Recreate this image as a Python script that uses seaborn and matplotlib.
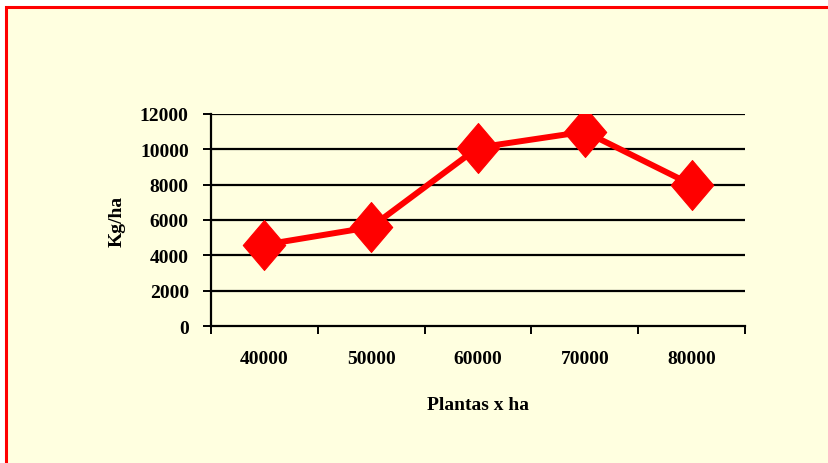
import matplotlib
matplotlib.use("Agg")
import matplotlib.pyplot as plt
from matplotlib.patches import Rectangle
from matplotlib.path import Path
from matplotlib.ticker import FixedLocator
import seaborn as sns
import pandas as pd

# Yield by planting density
densities = ["40000", "50000", "60000", "70000", "80000"]
yields = [4600, 5600, 10100, 11000, 8000]
y_ticks = [0, 2000, 4000, 6000, 8000, 10000, 12000]

sns.set_style("white")
plt.rcParams["font.family"] = ["Liberation Serif", "DejaVu Serif"]
plt.rcParams["font.weight"] = "bold"
plt.rcParams["text.color"] = "black"
plt.rcParams["axes.labelcolor"] = "black"
plt.rcParams["xtick.color"] = "black"
plt.rcParams["ytick.color"] = "black"

W, H = 829, 464
fig = plt.figure(figsize=(W / 100, H / 100), dpi=100, facecolor="white")

# Light-yellow panel with red frame
panel_color = "#FFFFE0"
fig.patches.append(Rectangle((6.5 / W, -0.05), 1.2, 1 - 7.5 / H + 0.05,
                             transform=fig.transFigure, facecolor=panel_color,
                             edgecolor="#FF0000", linewidth=2.2, zorder=-10))

ax = fig.add_axes([211 / W, 1 - 327 / H, (745 - 211) / W, (327 - 115) / H])
ax.set_zorder(5)
ax.patch.set_alpha(0)

df = pd.DataFrame({"Plantas": densities, "Kg": yields})

# Tall diamond marker
diamond = Path([(0, 1), (0.85, 0), (0, -1), (-0.85, 0), (0, 1)],
               [Path.MOVETO, Path.LINETO, Path.LINETO, Path.LINETO, Path.CLOSEPOLY])

sns.lineplot(data=df, x="Plantas", y="Kg", ax=ax, sort=False, color="#FF0000",
             linewidth=4.3, marker=diamond, markersize=36,
             markeredgecolor="#FF0000", markerfacecolor="#FF0000", zorder=5)

ax.set_xlim(-0.5, len(densities) - 0.5)
ax.set_ylim(0, 12000)
ax.set_yticks(y_ticks)
ax.set_yticklabels([str(v) for v in y_ticks])
ax.set_xticks(range(len(densities)))
ax.set_xticklabels(densities)
ax.xaxis.set_minor_locator(FixedLocator([i - 0.5 for i in range(len(densities) + 1)]))

ax.grid(False)
for v in y_ticks[1:]:
    ax.axhline(v, color="black", linewidth=1.6, zorder=1)

for s in ["top", "right"]:
    ax.spines[s].set_visible(False)
for s in ["left", "bottom"]:
    ax.spines[s].set_color("black")
    ax.spines[s].set_linewidth(1.6)

ax.tick_params(axis="y", which="major", left=True, direction="out", length=6,
               width=1.4, color="black", pad=10, labelsize=14, labelcolor="black")
ax.tick_params(axis="x", which="major", bottom=True, length=0, pad=17,
               labelsize=14, labelcolor="black")
ax.tick_params(axis="x", which="minor", bottom=True, direction="out", length=6,
               width=1.4, color="black")
for lbl in ax.get_xticklabels() + ax.get_yticklabels():
    lbl.set_fontweight("bold")

ax.set_xlabel("Plantas x ha", fontsize=14, fontweight="bold", labelpad=21,
              color="black")
ax.set_ylabel("Kg/ha", fontsize=14, fontweight="bold", labelpad=10,
              color="black")

fig.savefig("out.png", dpi=100, facecolor="white")
